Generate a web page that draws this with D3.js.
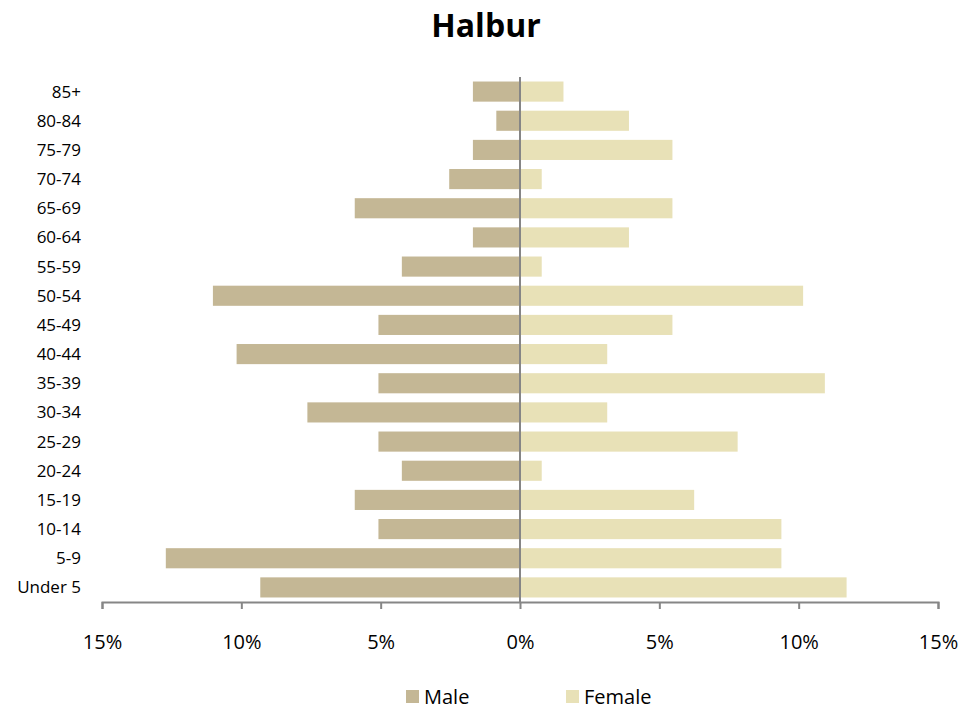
<!DOCTYPE html>
<html><head><meta charset="utf-8">
<script src="https://cdn.jsdelivr.net/npm/d3@7"></script>
<style>body{margin:0;background:#fff;} text{font-family:"Open Sans","Liberation Sans",sans-serif;}</style>
</head><body>
<svg id="c" width="979" height="713"></svg>
<script>
const title = "Halbur";
const categories = ["85+","80-84","75-79","70-74","65-69","60-64","55-59","50-54","45-49","40-44","35-39","30-34","25-29","20-24","15-19","10-14","5-9","Under 5"];
const male = [1.69,0.85,1.69,2.54,5.93,1.69,4.24,11.02,5.08,10.17,5.08,7.63,5.08,4.24,5.93,5.08,12.71,9.32];
const female = [1.56,3.91,5.47,0.78,5.47,3.91,0.78,10.16,5.47,3.13,10.94,3.13,7.81,0.78,6.25,9.38,9.38,11.72];
const xTicks = [-15,-10,-5,0,5,10,15];
const seriesNames = ["Male","Female"];
const colors = ["#c4b795","#e8e1b7"];

const svg = d3.select("#c");
const x = d3.scaleLinear().domain([-15,15]).range([102,938]);
const y = d3.scaleBand().domain(categories).range([77,602]).paddingInner(0.31).paddingOuter(0.155);

svg.append("text").attr("x",486).attr("y",37).attr("text-anchor","middle")
  .attr("font-size",32).attr("font-weight","bold").attr("fill","#000").text(title);

svg.append("g").selectAll("rect").data(categories).join("rect")
  .attr("x",(d,i)=>x(-male[i])).attr("width",(d,i)=>x(0)-x(-male[i]))
  .attr("y",d=>y(d)).attr("height",y.bandwidth()).attr("fill",colors[0]);
svg.append("g").selectAll("rect").data(categories).join("rect")
  .attr("x",x(0)).attr("width",(d,i)=>x(female[i])-x(0))
  .attr("y",d=>y(d)).attr("height",y.bandwidth()).attr("fill",colors[1]);

// x axis
const xa = svg.append("g").attr("transform","translate(0,602)")
  .call(d3.axisBottom(x).tickValues(xTicks).tickSize(7).tickPadding(26).tickFormat(d=>Math.abs(d)+"%"));
xa.select(".domain").attr("stroke","#868686").attr("stroke-width",2);
xa.selectAll(".tick line").attr("stroke","#868686").attr("stroke-width",2);
xa.selectAll("text").attr("font-size",20).attr("fill","#000").attr("font-family","'Open Sans',sans-serif");

// y axis at zero
const ya = svg.append("g").attr("transform",`translate(${x(0)},0)`)
  .call(d3.axisLeft(y).tickSize(0).tickFormat(""));
ya.select(".domain").attr("stroke","#868686").attr("stroke-width",2).attr("d",`M0,77V602`);

// category labels
svg.append("g").selectAll("text").data(categories).join("text")
  .attr("x",81).attr("y",d=>y(d)+y.bandwidth()/2).attr("dy","0.35em")
  .attr("text-anchor","end").attr("font-size",17).attr("fill","#000").text(d=>d);

// legend
const lx = [406,566];
const lg = svg.append("g");
seriesNames.forEach((n,i)=>{
  lg.append("rect").attr("x",lx[i]).attr("y",690).attr("width",13).attr("height",13).attr("fill",colors[i]);
  lg.append("text").attr("x",lx[i]+18).attr("y",697).attr("dy","0.35em").attr("font-size",20).attr("fill","#000").text(n);
});
</script>
</body></html>
